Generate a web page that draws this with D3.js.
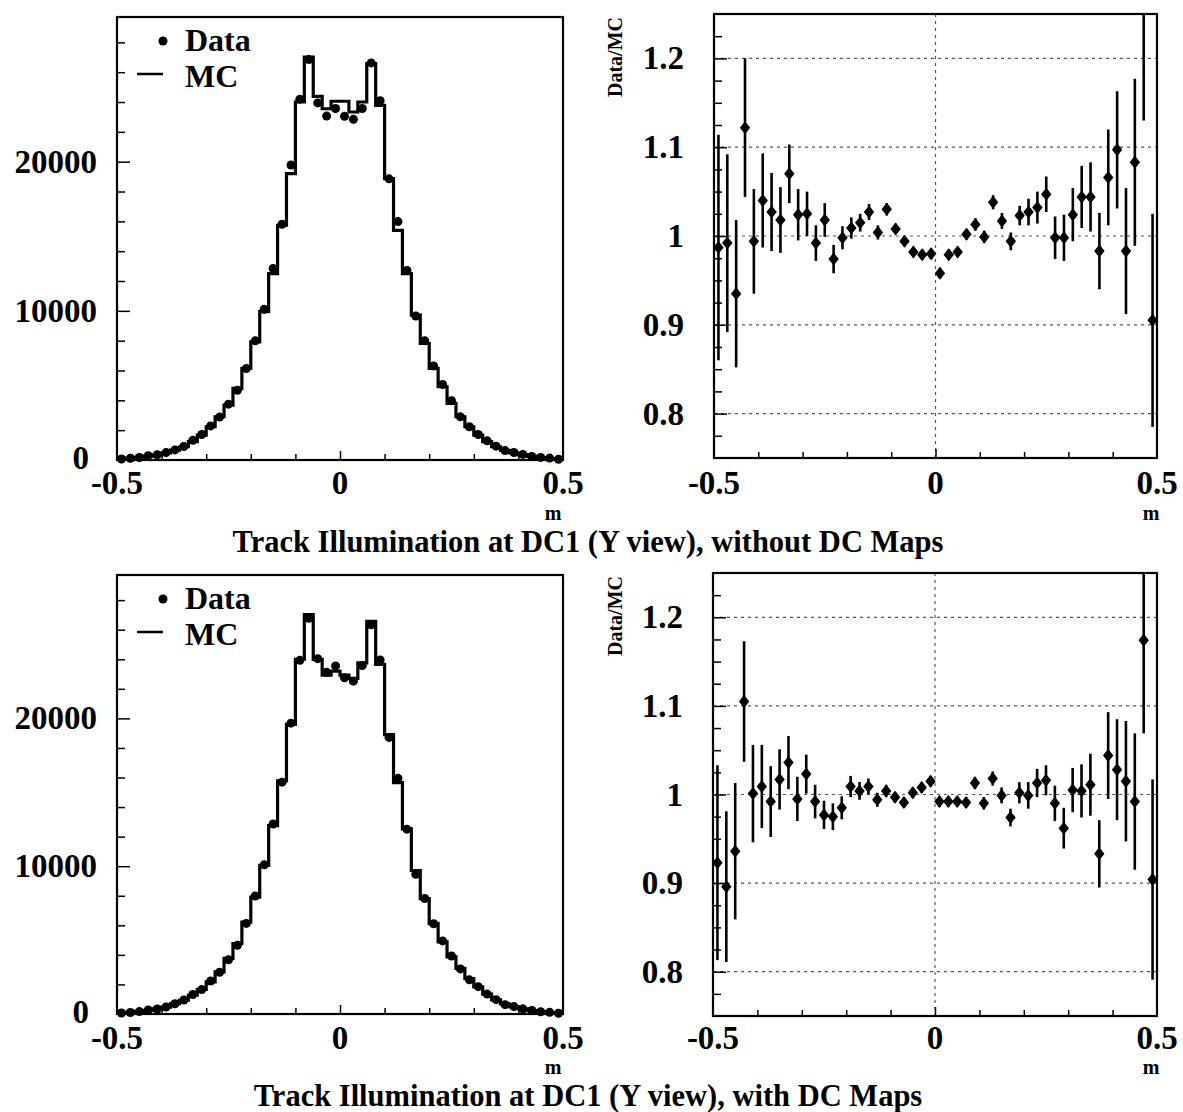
<!DOCTYPE html>
<html><head><meta charset="utf-8">
<script src="https://cdn.jsdelivr.net/npm/d3@7"></script>
<style>
body{margin:0;background:#fff;}
text{font-family:"Liberation Serif","Times New Roman",serif;font-weight:bold;fill:#000;}
</style></head><body>
<svg id="c" width="1183" height="1112" style="display:block"></svg>
<script>
// ---------- data ----------
const binCenters = [-0.49,-0.47,-0.45,-0.43,-0.41,-0.39,-0.37,-0.35,-0.33,-0.31,-0.29,-0.27,-0.25,-0.23,-0.21,-0.19,-0.17,-0.15,-0.13,-0.11,-0.09,-0.07,-0.05,-0.03,-0.01,0.01,0.03,0.05,0.07,0.09,0.11,0.13,0.15,0.17,0.19,0.21,0.23,0.25,0.27,0.29,0.31,0.33,0.35,0.37,0.39,0.41,0.43,0.45,0.47,0.49];
const binWidth = 0.02;

// without DC maps
const mcTop = [70,120,180,260,350,480,660,890,1230,1670,2230,2900,3680,4800,6140,7920,9950,12500,15740,19200,24000,27010,24380,23550,24050,24050,23330,24000,26570,23780,18870,15400,12500,9710,7810,6140,4910,3800,2900,2230,1670,1230,890,640,470,340,240,160,100,60];
const dataTop = [69,119,168,292,348,499,678,906,1316,1710,2286,2877,3746,4675,6128,7991,10099,12838,15803,19776,24192,26848,23941,23055,23569,23040,22840,23568,26623,24089,18851,15985,12713,9652,7990,6306,5067,3979,2894,2226,1710,1284,929,629,501,373,236,173,126,54];
const ratioTop = [0.987,0.992,0.935,1.122,0.994,1.040,1.027,1.018,1.070,1.024,1.025,0.992,1.018,0.974,0.998,1.009,1.015,1.027,1.004,1.030,1.008,0.994,0.982,0.979,0.980,0.958,0.979,0.982,1.002,1.013,0.999,1.038,1.017,0.994,1.023,1.027,1.032,1.047,0.998,0.998,1.024,1.044,1.044,0.983,1.066,1.097,0.983,1.083,1.260,0.905];
const errTop = [0.127,0.100,0.083,0.078,0.059,0.053,0.044,0.037,0.033,0.029,0.025,0.020,0.019,0.016,0.013,0.012,0.010,0.009,0.008,0.007,0.006,0.006,0.006,0.006,0.006,0.006,0.006,0.006,0.006,0.007,0.007,0.008,0.009,0.010,0.011,0.015,0.018,0.020,0.024,0.026,0.030,0.035,0.039,0.043,0.054,0.066,0.071,0.094,0.130,0.120];

// with DC maps
const mcBot = [70,115,175,250,340,470,700,930,1270,1660,2180,2850,3760,4770,6220,7910,10050,12740,15780,19600,24000,27020,23990,22930,23200,22930,22700,23760,26570,23650,18900,15660,12520,9710,7800,6110,4880,3860,3080,2400,1840,1340,960,680,480,340,230,150,95,55];
const dataBot = [65,103,164,276,340,474,694,946,1316,1652,2230,2827,3674,4651,6127,7981,10090,12855,15685,19678,23928,26777,24038,23113,23548,22747,22518,23570,26331,23957,18711,15942,12507,9458,7816,6104,4943,3922,3049,2309,1849,1345,971,634,501,350,233,149,112,50];
const ratioBot = [0.923,0.896,0.936,1.105,1.001,1.009,0.992,1.017,1.036,0.995,1.023,0.992,0.977,0.975,0.985,1.009,1.004,1.009,0.994,1.004,0.997,0.991,1.002,1.008,1.015,0.992,0.992,0.992,0.991,1.013,0.990,1.018,0.999,0.974,1.002,0.999,1.013,1.016,0.990,0.962,1.005,1.004,1.011,0.933,1.044,1.028,1.015,0.992,1.174,0.904];
const errBot = [0.110,0.085,0.077,0.068,0.055,0.047,0.040,0.034,0.030,0.025,0.022,0.019,0.016,0.015,0.013,0.012,0.010,0.009,0.008,0.007,0.006,0.006,0.006,0.006,0.006,0.006,0.006,0.006,0.006,0.007,0.007,0.008,0.009,0.010,0.012,0.015,0.016,0.017,0.020,0.023,0.025,0.030,0.035,0.038,0.049,0.057,0.068,0.077,0.105,0.113];

const histTicks = [0,10000,20000];
const histTickLabels = ["0","10000","20000"];
const ratioTicks = [0.8,0.9,1.0,1.1,1.2];
const ratioTickLabels = ["0.8","0.9","1","1.1","1.2"];
const xTicks = [-0.5,0,0.5];
const xTickLabels = ["-0.5","0","0.5"];
const legendLabels = ["Data","MC"];
const yRatioTitle = "Data/MC";
const unitLabel = "m";
const titles = ["Track Illumination at DC1 (Y view), without DC Maps","Track Illumination at DC1 (Y view), with DC Maps"];

// ---------- drawing ----------
const svg = d3.select("#c");
const HMAX = 29700;
const rows = [
  {hist:{x0:117,x1:563,y0:17,y1:460}, ratio:{x0:714,x1:1157,y0:14,y1:458}, labY:494, mY:519.5, titleY:551.5,
   mc:mcTop, data:dataTop, r:ratioTop, e:errTop, title:titles[0]},
  {hist:{x0:117,x1:563,y0:575,y1:1014}, ratio:{x0:713,x1:1157,y0:573,y1:1016}, labY:1048.5, mY:1073.5, titleY:1105.5,
   mc:mcBot, data:dataBot, r:ratioBot, e:errBot, title:titles[1]}
];

function styleTicks(g, w){
  g.select(".domain").remove();
  g.selectAll(".tick line").attr("stroke","#000").attr("stroke-width",w||1.5);
  g.selectAll(".tick text").remove();
}

rows.forEach((row, ri) => {
  // ===== histogram panel =====
  const b = row.hist;
  const x = d3.scaleLinear().domain([-0.5,0.5]).range([b.x0,b.x1]);
  const y = d3.scaleLinear().domain([0,HMAX]).range([b.y1,b.y0]);
  const g = svg.append("g");

  // ticks
  styleTicks(g.append("g").attr("transform",`translate(${b.x0},0)`)
    .call(d3.axisRight(y).tickValues(d3.range(2000,29000,2000).filter(v=>v%10000)).tickSize(8)));
  styleTicks(g.append("g").attr("transform",`translate(${b.x0},0)`)
    .call(d3.axisRight(y).tickValues([10000,20000]).tickSize(13)));
  styleTicks(g.append("g").attr("transform",`translate(0,${b.y1})`)
    .call(d3.axisTop(x).tickValues([-0.4,-0.3,-0.2,-0.1,0.1,0.2,0.3,0.4]).tickSize(6)));
  styleTicks(g.append("g").attr("transform",`translate(0,${b.y1})`)
    .call(d3.axisTop(x).tickValues([0]).tickSize(9)));

  // MC step line
  const pts = binCenters.map((c,i)=>[c-binWidth/2, row.mc[i]]);
  pts.push([binCenters[binCenters.length-1]+binWidth/2, row.mc[row.mc.length-1]]);
  g.append("path").attr("d", d3.line().x(d=>x(d[0])).y(d=>y(d[1])).curve(d3.curveStepAfter)(pts))
    .attr("fill","none").attr("stroke","#000").attr("stroke-width",3.2);
  // data dots
  g.selectAll("circle.d").data(binCenters).join("circle").attr("class","d")
    .attr("cx",c=>x(c)).attr("cy",(c,i)=>y(row.data[i])).attr("r",4.5).attr("fill","#000");
  // frame
  g.append("rect").attr("x",b.x0).attr("y",b.y0).attr("width",b.x1-b.x0).attr("height",b.y1-b.y0)
    .attr("fill","none").attr("stroke","#000").attr("stroke-width",2.2);

  // y labels
  histTicks.forEach((v,i)=>{
    g.append("text").attr("x",v===0 ? b.x0-28 : b.x0-20).attr("y",y(v)+(v===0?-2:0)).attr("text-anchor","end")
      .attr("dominant-baseline","central").attr("font-size",33).text(histTickLabels[i]);
  });
  // x labels
  xTicks.forEach((v,i)=>{
    g.append("text").attr("x",x(v)).attr("y",row.labY).attr("text-anchor","middle")
      .attr("font-size",33).text(xTickLabels[i]);
  });
  g.append("text").attr("x",x(0.5)-10).attr("y",row.mY).attr("text-anchor","middle").attr("font-size",20).text(unitLabel);

  // legend
  g.append("circle").attr("cx",b.x0+46).attr("cy",b.y0+24).attr("r",4.5).attr("fill","#000");
  g.append("text").attr("x",b.x0+68).attr("y",b.y0+34).attr("font-size",32).text(legendLabels[0]);
  g.append("line").attr("x1",b.x0+20).attr("x2",b.x0+46).attr("y1",b.y0+57).attr("y2",b.y0+57)
    .attr("stroke","#000").attr("stroke-width",2.5);
  g.append("text").attr("x",b.x0+68).attr("y",b.y0+69.5).attr("font-size",32).text(legendLabels[1]);

  // ===== ratio panel =====
  const rb = row.ratio;
  const xr = d3.scaleLinear().domain([-0.5,0.5]).range([rb.x0,rb.x1]);
  const yr = d3.scaleLinear().domain([0.75,1.25]).range([rb.y1,rb.y0]);
  const rg = svg.append("g");
  const clipId = "clip"+ri;
  rg.append("clipPath").attr("id",clipId).append("rect")
    .attr("x",rb.x0).attr("y",rb.y0).attr("width",rb.x1-rb.x0).attr("height",rb.y1-rb.y0);

  // grid
  const grid = rg.append("g").attr("stroke","#555").attr("stroke-width",1.2).attr("stroke-dasharray","3,4");
  ratioTicks.forEach(v=>grid.append("line").attr("x1",rb.x0).attr("x2",rb.x1).attr("y1",yr(v)).attr("y2",yr(v)));
  grid.append("line").attr("x1",xr(0)).attr("x2",xr(0)).attr("y1",rb.y0).attr("y2",rb.y1);

  // ticks
  styleTicks(rg.append("g").attr("transform",`translate(${rb.x0},0)`)
    .call(d3.axisRight(yr).tickValues([0.775,0.825,0.85,0.875,0.925,0.95,0.975,1.025,1.05,1.075,1.125,1.15,1.175,1.225]).tickSize(8)));
  styleTicks(rg.append("g").attr("transform",`translate(${rb.x0},0)`)
    .call(d3.axisRight(yr).tickValues(ratioTicks).tickSize(13)));
  styleTicks(rg.append("g").attr("transform",`translate(0,${rb.y1})`)
    .call(d3.axisTop(xr).tickValues([-0.4,-0.3,-0.2,-0.1,0.1,0.2,0.3,0.4]).tickSize(6)));
  styleTicks(rg.append("g").attr("transform",`translate(0,${rb.y1})`)
    .call(d3.axisTop(xr).tickValues([0]).tickSize(9)));

  // error bars + diamonds
  const pg = rg.append("g").attr("clip-path",`url(#${clipId})`);
  pg.selectAll("line.eb").data(binCenters).join("line").attr("class","eb")
    .attr("x1",c=>xr(c)).attr("x2",c=>xr(c))
    .attr("y1",(c,i)=>yr(row.r[i]+row.e[i])).attr("y2",(c,i)=>yr(row.r[i]-row.e[i]))
    .attr("stroke","#000").attr("stroke-width",2.6);
  pg.selectAll("path.dm").data(binCenters).join("path").attr("class","dm")
    .attr("d",(c,i)=>{const cx=xr(c), cy=yr(row.r[i]); return `M${cx},${cy-6.5}L${cx+5.2},${cy}L${cx},${cy+6.5}L${cx-5.2},${cy}Z`;})
    .attr("fill","#000");

  // frame
  rg.append("rect").attr("x",rb.x0).attr("y",rb.y0).attr("width",rb.x1-rb.x0).attr("height",rb.y1-rb.y0)
    .attr("fill","none").attr("stroke","#000").attr("stroke-width",2.2);

  // labels
  ratioTicks.forEach((v,i)=>{
    rg.append("text").attr("x",rb.x0-30).attr("y",yr(v)).attr("text-anchor","end")
      .attr("dominant-baseline","central").attr("font-size",33).text(ratioTickLabels[i]);
  });
  xTicks.forEach((v,i)=>{
    rg.append("text").attr("x",xr(v)).attr("y",row.labY).attr("text-anchor","middle")
      .attr("font-size",33).text(xTickLabels[i]);
  });
  rg.append("text").attr("x",xr(0.5)-6).attr("y",row.mY).attr("text-anchor","middle").attr("font-size",20).text(unitLabel);
  rg.append("text").attr("transform",`translate(622,${rb.y0+3}) rotate(-90)`).attr("text-anchor","end")
    .attr("font-size",20).text(yRatioTitle);

  // title
  svg.append("text").attr("x",588).attr("y",row.titleY).attr("text-anchor","middle")
    .attr("font-size",30.5).text(row.title);
});
</script></body></html>
